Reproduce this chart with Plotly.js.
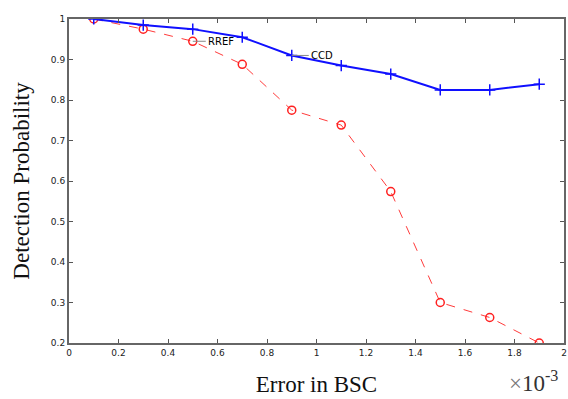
<!DOCTYPE html>
<html><head><meta charset="utf-8">
<script src="https://cdn.plot.ly/plotly-3.0.1.min.js"></script>
<style>html,body{margin:0;padding:0;background:#fff}#c{width:568px;height:399px}</style>
</head><body><div id="c"></div>
<script>
const errorBSC = [0.1, 0.3, 0.5, 0.7, 0.9, 1.1, 1.3, 1.5, 1.7, 1.9];
const ccd = [1.0, 0.985, 0.975, 0.955, 0.91, 0.885, 0.864, 0.825, 0.825, 0.839];
const rref = [1.0, 0.975, 0.945, 0.888, 0.775, 0.738, 0.574, 0.300, 0.263, 0.200];
const xTicks = [0, 0.2, 0.4, 0.6, 0.8, 1, 1.2, 1.4, 1.6, 1.8, 2];
const xTickText = ["0","0.2","0.4","0.6","0.8","1","1.2","1.4","1.6","1.8","2"];
const yTicks = [0.2, 0.3, 0.4, 0.5, 0.6, 0.7, 0.8, 0.9, 1];
const yTickText = ["0.2","0.3","0.4","0.5","0.6","0.7","0.8","0.9","1"];

const traces = [
  {x: errorBSC, y: rref, name: 'RREF', mode: 'lines+markers',
   line: {color: '#ff3b3b', width: 1, dash: 'dash'},
   marker: {symbol: 'circle-open', size: 8, color: '#ff2020', line: {width: 1.5, color: '#ff2020'}}},
  {x: errorBSC, y: ccd, name: 'CCD', mode: 'lines+markers',
   line: {color: '#1010ff', width: 2},
   marker: {symbol: 'cross-thin-open', size: 8, color: '#1010ff', line: {width: 1.5, color: '#1010ff'}}}
];

const tickFont = {family: 'DejaVu Sans', size: 9, color: '#222'};
const layout = {
  width: 568, height: 399,
  margin: {l: 69, r: 4, t: 19, b: 56},
  paper_bgcolor: '#fff', plot_bgcolor: '#fff',
  showlegend: false,
  xaxis: {range: [0, 2], tickvals: xTicks, ticktext: xTickText, ticks: 'inside', ticklen: 4,
    tickcolor: '#555', showline: true, linecolor: '#666', linewidth: 2, mirror: 'ticks',
    showgrid: false, zeroline: false, tickfont: tickFont,
    title: {text: 'Error in BSC', font: {family: 'Liberation Serif', size: 23, color: '#111'}, standoff: 19}},
  yaxis: {range: [0.2, 1], tickvals: yTicks, ticktext: yTickText, ticks: 'inside', ticklen: 4,
    tickcolor: '#555', showline: true, linecolor: '#666', linewidth: 2, mirror: 'ticks',
    showgrid: false, zeroline: false, tickfont: tickFont,
    title: {text: 'Detection Probability', font: {family: 'Liberation Serif', size: 23, color: '#111'}, standoff: 15}},
  annotations: [
    {x: 0.5, y: 0.945, xref: 'x', yref: 'y', text: 'RREF', showarrow: true, arrowhead: 0,
     arrowcolor: '#888', arrowwidth: 1, ax: 13, ay: 0, xanchor: 'left', font: {family: 'DejaVu Sans', size: 10, color: '#000'}},
    {x: 0.9, y: 0.91, xref: 'x', yref: 'y', text: 'CCD', showarrow: true, arrowhead: 0,
     arrowcolor: '#888', arrowwidth: 1, ax: 17, ay: 0, xanchor: 'left', font: {family: 'DejaVu Sans', size: 10, color: '#000'}},
    {x: 1, y: 0, xref: 'paper', yref: 'paper', xanchor: 'right', yanchor: 'bottom', yshift: -55, xshift: -4,
     text: '<span style="color:#777">×</span>10<sup>-3</sup>', showarrow: false, font: {family: 'Liberation Serif', size: 23, color: '#333'}}
  ]
};
Plotly.newPlot('c', traces, layout, {displayModeBar: false, staticPlot: true});
</script></body></html>
